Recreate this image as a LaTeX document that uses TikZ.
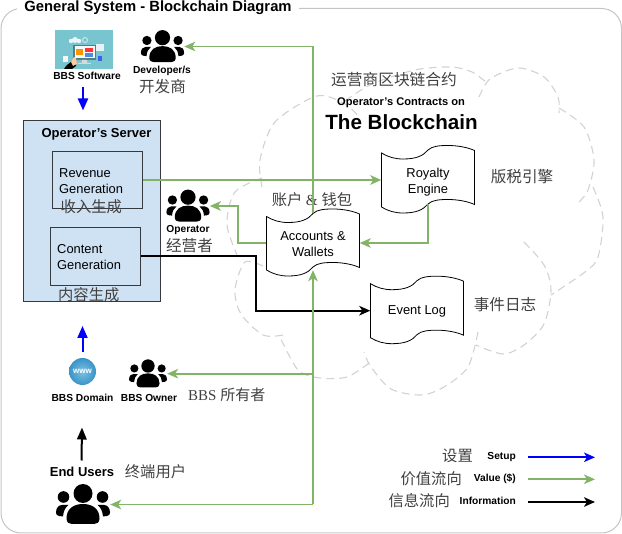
\documentclass[tikz,border=0pt]{standalone}
\usepackage{fontspec}
\setmainfont{Liberation Sans}
\newfontfamily\cjk{Noto Sans CJK SC}
\newfontfamily\serifl{Liberation Serif}
\usetikzlibrary{arrows.meta,calc}
\definecolor{flowgreen}{HTML}{82B366}
\definecolor{framegray}{HTML}{C4C4C4}
\definecolor{cloudgray}{HTML}{D2D2D2}
\definecolor{srvblue}{HTML}{CFE2F3}
\definecolor{cjkgray}{HTML}{404040}
\definecolor{edgegray}{HTML}{36393D}
\definecolor{teal1}{HTML}{78C5CF}
\definecolor{globein}{HTML}{7CC2E2}
\definecolor{globeout}{HTML}{3A93C8}
\tikzset{
  lblb/.style={inner sep=0pt,font=\bfseries\fontsize{#1}{#1}\selectfont},
  lblr/.style={inner sep=0pt,align=center,font=\fontsize{#1}{15.8}\selectfont},
  cjkt/.style={inner sep=0pt,text=cjkgray,font=\cjk\fontsize{#1}{#1}\selectfont},
  cjkt/.default=15.3,
  cloudline/.style={draw=cloudgray,line width=1.1pt,dash pattern=on 8pt off 5pt},
  wavebody/.style={draw=black,line width=0.8pt,fill=white},
  holder/.style={inner sep=0pt,minimum width=93pt},
  greenflow/.style={draw=flowgreen,line width=#1,-{Stealth[length=11pt,width=9.5pt,inset=3pt,flowgreen]}},
  greenflow/.default=1.8pt,
  blackflow/.style={draw=black,line width=2pt,-{Stealth[length=11pt,width=9.5pt,inset=3pt,black]}},
  blueflow/.style={draw=blue,line width=1.8pt,-{Stealth[length=11pt,width=9.5pt,inset=3pt,blue]}},
  bluesolid/.style={draw=blue,line width=2pt,-{Triangle[length=12pt,width=10pt,blue]}},
  blacksolid/.style={draw=black,line width=2pt,-{Triangle[length=12pt,width=9.5pt,black]}},
  srvbox/.style={draw=edgegray,line width=0.9pt,fill=srvblue,inner sep=0pt},
}
% wave outline: #1 centre x, #2 centre y, #3 top-left offset, #4 bottom-left offset
\newcommand\wavedraw[4]{%
  \begin{scope}[shift={(#1,#2)}]
  \path[wavebody] (-46.5,#3)
    .. controls (-40,#3+4) and (-33,#3+6) .. (-25,#3+6)
    .. controls (-12,#3+6) and (-5,#3+3) .. (0,#3-3)
    .. controls (4,#3-7) and (12,#3-7.5) .. (20,#3-7.5)
    .. controls (30,#3-7.5) and (40,#3-5.5) .. (46.5,#3-2.5)
    -- (46.5,#4-2.5)
    .. controls (40,#4-5.5) and (30,#4-7.5) .. (20,#4-7.5)
    .. controls (12,#4-7.5) and (4,#4-7) .. (0,#4-3)
    .. controls (-5,#4+3) and (-12,#4+6) .. (-25,#4+6)
    .. controls (-33,#4+6) and (-40,#4+4) .. (-46.5,#4)
    -- cycle;
  \end{scope}}
% people icon: #1 name, #2 cx, #3 cy, #4 scale
\newcommand\peopleicon[4]{%
  \node[inner sep=0pt,minimum width={54pt*#4},minimum height={39pt*#4}] (#1) at (#2,#3) {};
  \begin{scope}[shift={(#2,#3)},scale=#4]
  \fill[black] (0,-11) circle (9.5);
  \fill[black] (-19.5,-7.5) circle (5.8);
  \fill[black] (19.5,-7.5) circle (5.8);
  \fill[black] (-16.5,14) .. controls (-16.5,4) and (-9,-0.5) .. (0,-0.5)
     .. controls (9,-0.5) and (16.5,4) .. (16.5,14)
     .. controls (16.5,18) and (14,19.5) .. (11,19.5) -- (-11,19.5)
     .. controls (-14,19.5) and (-16.5,18) .. (-16.5,14) -- cycle;
  \foreach \sgn in {-1,1}{
  \fill[black] ({\sgn*27},8) .. controls ({\sgn*27},3) and ({\sgn*24},0.5) .. ({\sgn*21},0.5)
     -- ({\sgn*14.5},0.5) .. controls ({\sgn*18},3) and ({\sgn*19.5},7) .. ({\sgn*20},12)
     -- ({\sgn*24},11.5) .. controls ({\sgn*26},11) and ({\sgn*27},10) .. ({\sgn*27},8) -- cycle;}
  \end{scope}}
\begin{document}
\begin{tikzpicture}[x=1pt,y=-1pt]
\useasboundingbox (0,0) rectangle (622,534);
% frame and title
\draw[framegray,line width=1pt,rounded corners=20pt] (1,8.5) rectangle (621.5,533);
\node[lblb=14.8,fill=white,inner xsep=7pt,inner ysep=1pt] (title) at (158,7.5) {General System - Blockchain Diagram};
% cloud
\draw[cloudline] plot[smooth] coordinates {(262,187) (260,160) (275,122) (317,96) (345,104) (360,118)};
\draw[cloudline] plot[smooth] coordinates {(345,101) (372,84) (415,70) (451,67) (472,72) (487,83)};
\draw[cloudline] plot[smooth] coordinates {(479,97) (490,79) (518,68) (544,77) (558,97) (559,113)};
\draw[cloudline] plot[smooth] coordinates {(559,108) (584,127) (594,160) (588,190) (578,203)};
\draw[cloudline] plot[smooth] coordinates {(593,187) (603,217) (598,257) (585,272) (551,295)};
\draw[cloudline] plot[smooth] coordinates {(524,242) (544,265) (551,290) (544,324) (524,345) (503,354) (476,345)};
\draw[cloudline] plot[smooth] coordinates {(478,332) (468,367) (444,387) (421,395) (391,389) (371,367) (364,352)};
\draw[cloudline] plot[smooth] coordinates {(369,363) (347,377) (320,378) (298,370) (280,337)};
\draw[cloudline] plot[smooth] coordinates {(283,335) (263,335) (241,314) (235,290) (245,262) (265,267)};
\draw[cloudline] plot[smooth] coordinates {(262,178) (235,192) (227,225) (240,262)};
% server
\node[srvbox,minimum width=137pt,minimum height=181.5pt] (server) at (92,211.2) {};
\node[srvbox,minimum width=90pt,minimum height=57pt] (rev) at (97.5,180) {};
\node[srvbox,minimum width=90pt,minimum height=58pt] (content) at (95.5,256.5) {};
\node[lblb=13] (servertitle) at (96.5,134) {Operator’s Server};
\node[lblr=12.9,align=left,anchor=west] (revtext) at (59,181) {Revenue\\Generation};
\node[lblr=12.9,align=left,anchor=west] (contenttext) at (57,257) {Content\\Generation};
\node[cjkt,anchor=west] (revcn) at (60.5,207) {收入生成};
\node[cjkt,anchor=west] (contentcn) at (58,295) {内容生成};
% wave boxes
\wavedraw{428}{180}{-27}{27}
\wavedraw{313}{243}{-26.5}{27}
\wavedraw{417}{310.7}{-27}{27}
\node[holder,minimum height=44pt,lblr=12.9] (royal) at (428,182) {Royalty\\Engine};
\node[holder,minimum height=52pt,lblr=12.9] (acc) at (313,244) {Accounts \&\\Wallets};
\node[holder,minimum height=54pt,lblr=12.9] (evlog) at (417,311.7) {Event Log};
% software image
\node[inner sep=0pt,fill=teal1,minimum width=58pt,minimum height=39pt] (software) at (84,49.5) {};
\fill[white!85!teal1] (71,41) circle (2.2) (75,40) circle (3) (79,41) circle (2.2);
\draw[white!70!teal1,line width=0.8pt] (85,40) circle (2.5);
\fill[white!90!teal1] (63,56) rectangle (68,62);
\fill[black!35!teal1] (73,45) rectangle (96,60);
\fill[white!92!teal1] (74.5,46.5) rectangle (94.5,58.5);
\fill[orange!85!yellow] (75.5,49) rectangle (83,55);
\fill[red!80!white] (84.5,48.5) rectangle (93,52);
\fill[teal1!70!blue] (84.5,53) rectangle (93,57);
\fill[white!70!gray] (82,60) rectangle (87,63) (78,63) rectangle (91,64);
\fill[white!80!teal1] (96,44) rectangle (104,51);
\fill[teal1!50!blue] (98,56) rectangle (102,61);
\fill[black] (64,69) .. controls (66,65) and (70,63) .. (72,61) -- (74,58) -- (76,60) -- (76,66) -- (72,69) -- cycle;
\fill[orange!40!white] (71,62) -- (74,57) -- (76,58) -- (77,64) -- (73,66) -- cycle;
\node[lblb=10.2] (softlabel) at (87,76) {BBS Software};
% people
\peopleicon{developer}{162.5}{46.5}{0.8}
\peopleicon{operator}{188}{206}{0.8}
\peopleicon{owner}{148}{373.7}{0.7}
\peopleicon{users}{83}{504.5}{1}
\node[lblb=10.2] (devlabel) at (162,70.5) {Developer/s};
\node[cjkt=15.6] (devcn) at (162.5,87) {开发商};
\node[lblb=10.2] (oplabel) at (188,230) {Operator};
\node[cjkt=15.6] (opcn) at (189.5,246) {经营者};
% www
\node[circle,inner sep=0pt,minimum size=27pt,inner color=globein,outer color=globeout,text=white,font=\bfseries\fontsize{8}{8}\selectfont] (domain) at (82.5,371.5) {www};
\node[lblb=10.2] (domlabel) at (82.5,397.5) {BBS Domain};
\node[lblb=10.2] (ownlabel) at (149,397.5) {BBS Owner};
\node[inner sep=0pt,text=cjkgray,anchor=west,font=\fontsize{15}{15}\selectfont] (owncn) at (188,395) {\serifl BBS \cjk 所有者};
\node[lblb=13] (userlabel) at (82,472) {End Users};
\node[cjkt] (usercn) at (155.5,472) {终端用户};
% blockchain heading
\node[cjkt=15.7] (chaincn) at (394,80) {运营商区块链合约};
\node[lblb=11.1] (contractlabel) at (401,103) {Operator’s Contracts on};
\node[lblb=20.6] (chainlabel) at (401.5,122) {The Blockchain};
\node[cjkt=15.6] (royalcn) at (522,177) {版税引擎};
\node[inner sep=0pt,text=cjkgray,font=\fontsize{15.3}{15.3}\selectfont] (acccn) at (312,200) {\cjk 账户 \serifl\& \cjk 钱包};
\node[cjkt=15.6] (logcn) at (505,305) {事件日志};
% connectors
\draw[greenflow=1.6pt] ([yshift=5pt]acc.north) |- (developer.east);
\draw[greenflow=2pt] (rev.east) -- (rev.east -| royal.west);
\draw[greenflow=2pt] (royal.south) |- ([yshift=1pt]acc.east);
\draw[greenflow=2pt] ([yshift=1pt]acc.west) -- ++(-28,0) |- (operator.east);
\draw[blackflow] (content.east) -- ++(115,0) |- ([yshift=1pt]evlog.west);
\draw[greenflow=1.9pt] (acc.south |- owner.east) -- (owner.east);
\draw[greenflow=1.9pt] (acc.south |- users.east) -- (users.east);
\draw[greenflow=2.4pt] (acc.south |- users.east) -- (acc.south);
\coordinate (swout) at (83,87);
\coordinate (srvin) at (83,110.5);
\draw[bluesolid] (swout) -- (srvin);
\coordinate (domout) at (82.5,352.5);
\coordinate (srvbase) at (82.5,326);
\draw[bluesolid] (domout) -- (srvbase);
\coordinate (userout) at (81.5,460.5);
\coordinate (dombase) at (82,427.5);
\draw[blacksolid] (userout) -- (dombase);
% legend
\node[cjkt=15.3,anchor=east] (legcn1) at (473,456) {设置};
\node[cjkt=15.3,anchor=east] (legcn2) at (462,479) {价值流向};
\node[cjkt=15.3,anchor=east] (legcn3) at (450,501) {信息流向};
\node[lblb=10.2,anchor=east] (leg1) at (516,457) {Setup};
\node[lblb=10.2,anchor=east] (leg2) at (516,479) {Value (\$)};
\node[lblb=10.2,anchor=east] (leg3) at (516,501) {Information};
\coordinate (la1) at (528,457.3); \coordinate (lb1) at (595,457.3);
\coordinate (la2) at (528,479.3); \coordinate (lb2) at (595,479.3);
\coordinate (la3) at (528,502); \coordinate (lb3) at (595,502);
\draw[blueflow] (la1) -- (lb1);
\draw[greenflow=1.8pt] (la2) -- (lb2);
\draw[blackflow] (la3) -- (lb3);
\end{tikzpicture}
\end{document}
